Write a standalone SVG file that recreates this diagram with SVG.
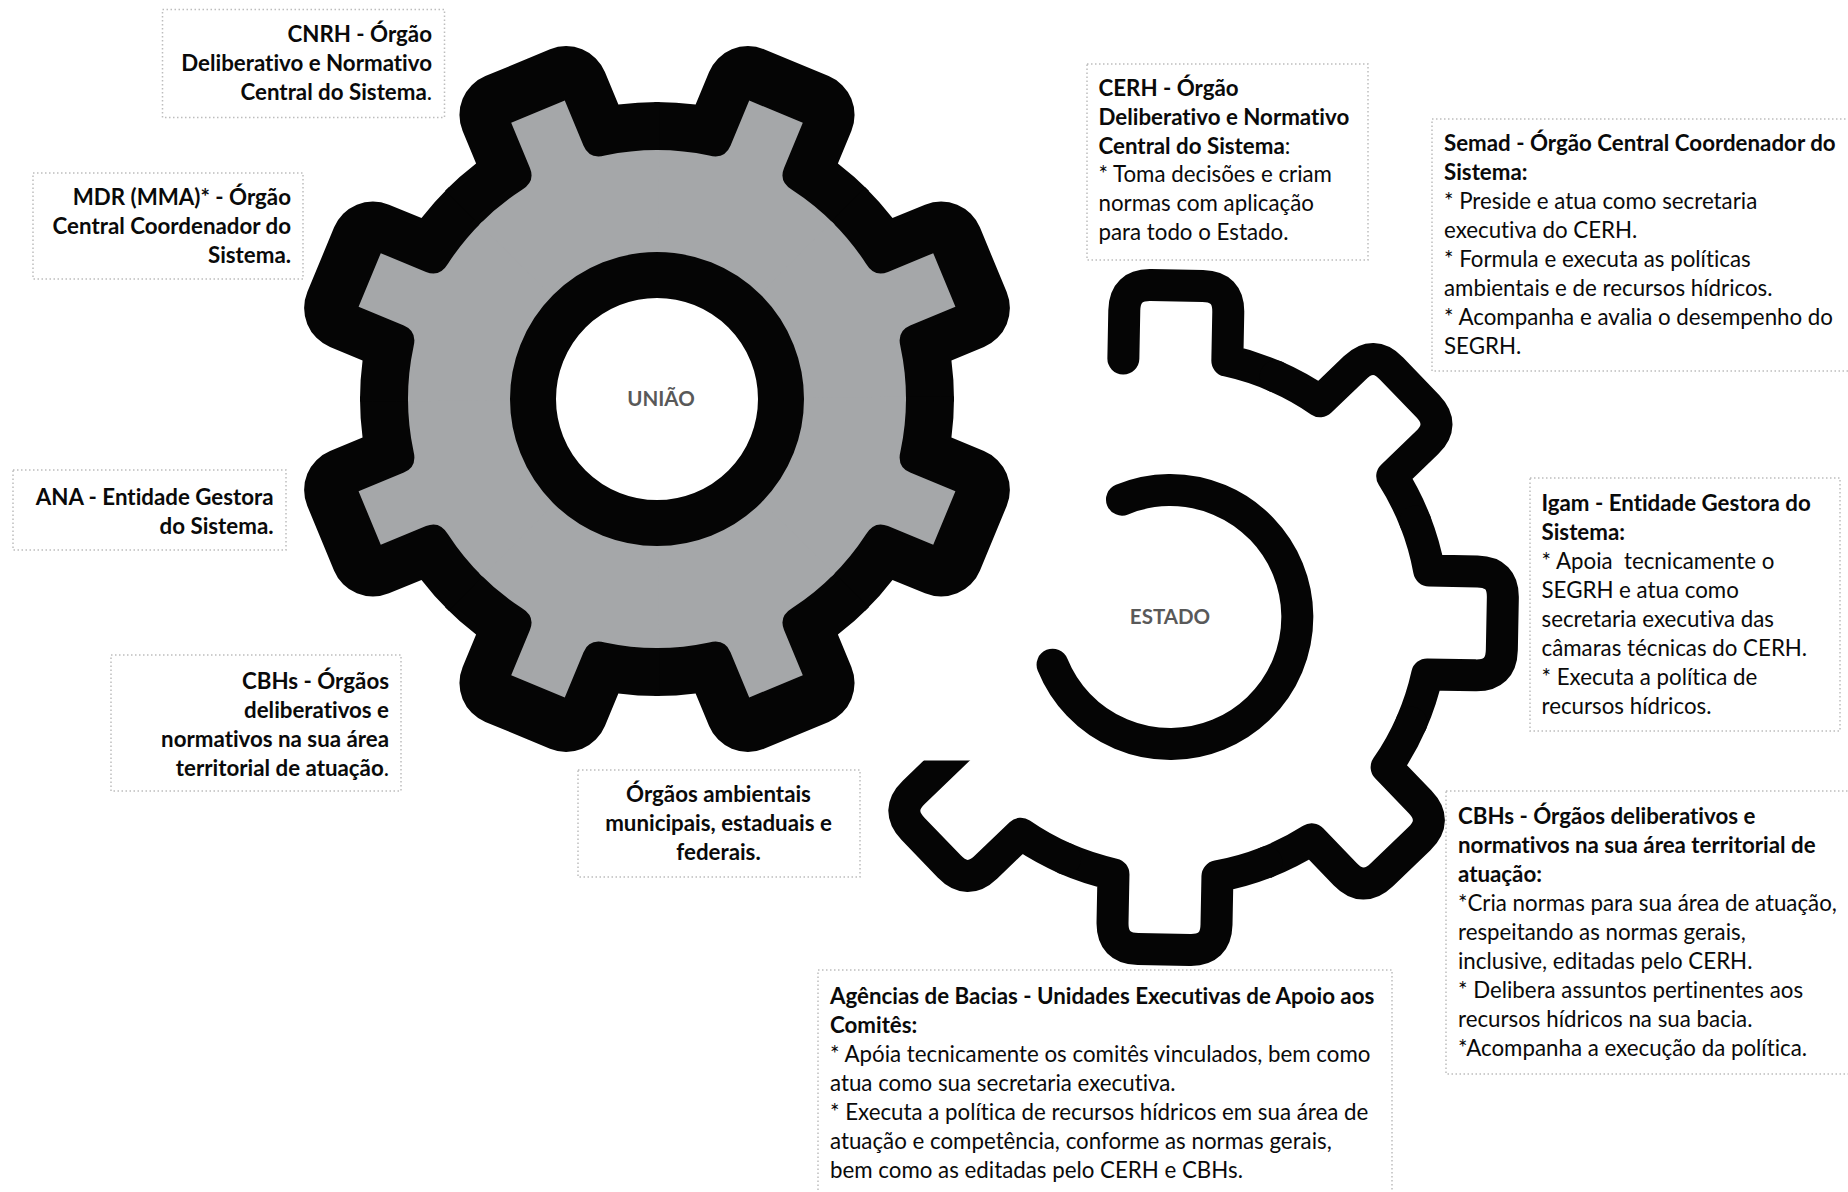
<svg xmlns="http://www.w3.org/2000/svg" xmlns:xlink="http://www.w3.org/1999/xlink" width="1848" height="1192" viewBox="0 0 1848 1192">
<style>
text{font-family:"Lato","Liberation Sans",sans-serif;font-size:22.3px;fill:#0a0a0a;font-variant-ligatures:none}
.b{font-weight:700}
.r{text-anchor:end}
.m{text-anchor:middle}
.box{fill:#fff;stroke:#bdbdbd;stroke-width:1.5;stroke-dasharray:1.5 2.5}
text.lab{font-weight:700;fill:#595959;font-size:20.5px;text-anchor:middle}
.gs{fill:none;stroke:#050505;stroke-width:32;stroke-linejoin:round;stroke-linecap:round}
</style>
<defs>
<path id="tooth" d="M-100.65-242.98A263 263 0 0 1-52-257.8L-52-306Q-52-332-26-332L26-332Q52-332 52-306L52-257.8A263 263 0 0 1 100.65-242.98"/>
<path id="wb" d="M0 0L-116.05-273.4A297 297 0 0 1-77-286.8L-77-322A42 42 0 0 1-35-364L35-364A42 42 0 0 1 77-322L77-286.8A297 297 0 0 1 116.05-273.4Z" fill="#050505"/>
<path id="wg" d="M0 0L-97.3-229.2A249 249 0 0 1-45-244.9Q-29-247.3-29-262L-29-311L29-311L29-262Q29-247.3 45-244.9A249 249 0 0 1 97.3-229.2Z" fill="#a5a7a9"/>
<clipPath id="cut"><polygon points="1000,200 1600,200 1600,1100 800,1100 800,760.5 1000,760.5"/></clipPath>
</defs>
<rect width="1848" height="1192" fill="#fff"/>
<g id="gear-uniao" transform="translate(657 399)">
<use xlink:href="#wb" href="#wb" transform="rotate(22.5)"/>
<use xlink:href="#wb" href="#wb" transform="rotate(67.5)"/>
<use xlink:href="#wb" href="#wb" transform="rotate(112.5)"/>
<use xlink:href="#wb" href="#wb" transform="rotate(157.5)"/>
<use xlink:href="#wb" href="#wb" transform="rotate(202.5)"/>
<use xlink:href="#wb" href="#wb" transform="rotate(247.5)"/>
<use xlink:href="#wb" href="#wb" transform="rotate(292.5)"/>
<use xlink:href="#wb" href="#wb" transform="rotate(337.5)"/>
<use xlink:href="#wg" href="#wg" transform="rotate(22.5)"/>
<use xlink:href="#wg" href="#wg" transform="rotate(67.5)"/>
<use xlink:href="#wg" href="#wg" transform="rotate(112.5)"/>
<use xlink:href="#wg" href="#wg" transform="rotate(157.5)"/>
<use xlink:href="#wg" href="#wg" transform="rotate(202.5)"/>
<use xlink:href="#wg" href="#wg" transform="rotate(247.5)"/>
<use xlink:href="#wg" href="#wg" transform="rotate(292.5)"/>
<use xlink:href="#wg" href="#wg" transform="rotate(337.5)"/>
<circle r="124" fill="#fff" stroke="#050505" stroke-width="46"/>
<text class="lab" x="4" y="7">UNIÃO</text>
</g>
<g id="gear-estado">
<g clip-path="url(#cut)" class="gs">
<path transform="translate(1170.4 617.5) rotate(1.1)" d="M-52-258L-52-306Q-52-332-26-332L26-332Q52-332 52-306L52-257.8A263 263 0 0 1 100.65-242.98"/>
<use xlink:href="#tooth" href="#tooth" transform="translate(1170.4 617.5) rotate(46.1)"/>
<use xlink:href="#tooth" href="#tooth" transform="translate(1170.4 617.5) rotate(91.1)"/>
<use xlink:href="#tooth" href="#tooth" transform="translate(1170.4 617.5) rotate(136.1)"/>
<use xlink:href="#tooth" href="#tooth" transform="translate(1170.4 617.5) rotate(181.1)"/>
<path transform="translate(1170.4 617.5) rotate(226.1)" d="M-100.65-242.98A263 263 0 0 1-52-257.8L-52-306Q-52-332-26-332L26-332Q52-332 52-306L52-230"/>
</g>
<path class="gs" d="M1122 499.6A127 127 0 1 1 1052.6 664.7"/>
<text class="lab" x="1170" y="624">ESTADO</text>
</g>
<g id="connectors"/>
<g id="n-cnrh"><rect class="box" x="162.5" y="9.5" width="282" height="108"/>
<text class="b r" x="432" y="42">CNRH - Órgão</text>
<text class="b r" x="432" y="71">Deliberativo e Normativo</text>
<text class="b r" x="432" y="100">Central do Sistema<tspan font-weight="400">.</tspan></text></g>
<g id="n-mdr"><rect class="box" x="33" y="173" width="270" height="106"/>
<text class="b r" x="291" y="205">MDR (MMA)* - Órgão</text>
<text class="b r" x="291" y="234">Central Coordenador do</text>
<text class="b r" x="291" y="263">Sistema.</text></g>
<g id="n-ana"><rect class="box" x="13" y="470" width="273" height="80"/>
<text class="b r" x="273.5" y="504.500">ANA - Entidade Gestora</text>
<text class="b r" x="273.5" y="533.5">do Sistema.</text></g>
<g id="n-cbh-uniao"><rect class="box" x="111" y="655" width="290" height="136"/>
<text class="b r" x="389" y="688.5">CBHs - Órgãos</text>
<text class="b r" x="389" y="717.5">deliberativos e</text>
<text class="b r" x="389" y="746.5">normativos na sua área</text>
<text class="b r" x="389" y="775.5">territorial de atuação<tspan font-weight="400">.</tspan></text></g>
<g id="n-orgaos"><rect class="box" x="578" y="770" width="282" height="107"/>
<text class="b m" x="718.5" y="802">Órgãos ambientais</text>
<text class="b m" x="718.5" y="831">municipais, estaduais e</text>
<text class="b m" x="718.5" y="860">federais.</text></g>
<g id="n-cerh"><rect class="box" x="1087" y="64" width="281" height="196"/>
<text class="b" x="1098.5" y="96">CERH - Órgão</text>
<text class="b" x="1098.5" y="125">Deliberativo e Normativo</text>
<text class="b" x="1098.5" y="154">Central do Sistema<tspan font-weight="400">:</tspan></text>
<text x="1098.5" y="182">* Toma decisões e criam</text>
<text x="1098.5" y="211">normas com aplicação</text>
<text x="1098.5" y="240">para todo o Estado.</text></g>
<g id="n-semad"><rect class="box" x="1432" y="119" width="420" height="252"/>
<text class="b" x="1444" y="151">Semad - Órgão Central Coordenador do</text>
<text class="b" x="1444" y="180">Sistema:</text>
<text x="1444" y="209">* Preside e atua como secretaria</text>
<text x="1444" y="238">executiva do CERH.</text>
<text x="1444" y="267">* Formula e executa as políticas</text>
<text x="1444" y="296">ambientais e de recursos hídricos.</text>
<text x="1444" y="325">* Acompanha e avalia o desempenho do</text>
<text x="1444" y="354">SEGRH.</text></g>
<g id="n-igam"><rect class="box" x="1530" y="478" width="310" height="253"/>
<text class="b" x="1541.5" y="511">Igam - Entidade Gestora do</text>
<text class="b" x="1541.5" y="540">Sistema:</text>
<text x="1541.5" y="569">* Apoia&#160; tecnicamente o</text>
<text x="1541.5" y="598">SEGRH e atua como</text>
<text x="1541.5" y="627">secretaria executiva das</text>
<text x="1541.5" y="656">câmaras técnicas do CERH.</text>
<text x="1541.5" y="685">* Executa a política de</text>
<text x="1541.5" y="714">recursos hídricos.</text></g>
<g id="n-cbh-estado"><rect class="box" x="1446" y="791" width="406" height="283"/>
<text class="b" x="1458" y="824">CBHs - Órgãos deliberativos e</text>
<text class="b" x="1458" y="853">normativos na sua área territorial de</text>
<text class="b" x="1458" y="882">atuação:</text>
<text x="1458" y="911">*Cria normas para sua área de atuação,</text>
<text x="1458" y="940">respeitando as normas gerais,</text>
<text x="1458" y="969">inclusive, editadas pelo CERH.</text>
<text x="1458" y="998">* Delibera assuntos pertinentes aos</text>
<text x="1458" y="1027">recursos hídricos na sua bacia.</text>
<text x="1458" y="1056">*Acompanha a execução da política.</text></g>
<g id="n-agencias"><rect class="box" x="818" y="970" width="574" height="230"/>
<text class="b" x="830" y="1003.5">Agências de Bacias - Unidades Executivas de Apoio aos</text>
<text class="b" x="830" y="1032.5">Comitês:</text>
<text x="830" y="1061.5">* Apóia tecnicamente os comitês vinculados, bem como</text>
<text x="830" y="1090.5">atua como sua secretaria executiva.</text>
<text x="830" y="1119.5">* Executa a política de recursos hídricos em sua área de</text>
<text x="830" y="1148.5">atuação e competência, conforme as normas gerais,</text>
<text x="830" y="1177.5">bem como as editadas pelo CERH e CBHs.</text></g>
</svg>
